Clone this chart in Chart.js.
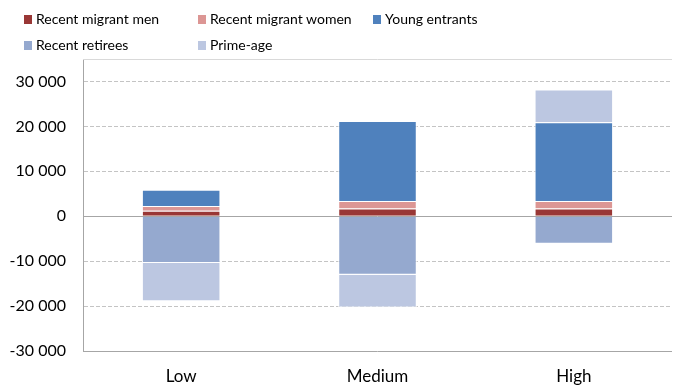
<!DOCTYPE html>
<html lang="en">
<head>
    <meta charset="UTF-8">
    <title>Labour force change by scenario</title>
    <style>
        html, body {
            margin: 0;
            padding: 0;
            background: #ffffff;
        }
        #wrap {
            position: relative;
            width: 673px;
            height: 387px;
        }
        #legend {
            position: absolute;
            left: 0;
            top: 0;
            width: 673px;
            height: 58px;
            font-family: Lato, sans-serif;
            font-size: 14px;
            color: #000000;
        }
        .item {
            position: absolute;
            white-space: nowrap;
            line-height: 20px;
        }
        .box {
            display: inline-block;
            width: 8px;
            height: 9px;
            margin-right: 4px;
            vertical-align: 0px;
        }
    </style>
</head>
<body>
    <div id="wrap">
        <canvas id="chart" width="673" height="387"></canvas>
        <div id="legend"></div>
    </div>

    <script src="https://cdn.jsdelivr.net/npm/chart.js"></script>
    <script>
        const scenarios = ['Low', 'Medium', 'High'];
        const seriesNames = ['Recent migrant men', 'Recent migrant women', 'Young entrants', 'Recent retirees', 'Prime-age'];
        const migrantMen = [1200, 1700, 1700];
        const migrantWomen = [1100, 1700, 1700];
        const youngEntrants = [3600, 17800, 17500];
        const recentRetirees = [-10400, -13000, -6100];
        const primeAge = [-8500, -7300, 7300];
        const tickValues = [-30000, -20000, -10000, 0, 10000, 20000, 30000];
        const colors = ['#993735', '#dc9694', '#4f81bd', '#95a9cf', '#bcc7e1'];

        const seriesValues = [migrantMen, migrantWomen, youngEntrants, recentRetirees, primeAge];

        function formatTick(v) {
            const s = String(Math.abs(v)).replace(/\B(?=(\d{3})+(?!\d))/g, ' ');
            return (v < 0 ? '-' : '') + s;
        }

        // solid lines for zero, bottom and top of the plot
        const frameLines = {
            id: 'frameLines',
            afterDatasetsDraw(chart) {
                const {ctx, chartArea, scales} = chart;
                const y = scales.y;
                ctx.save();
                ctx.lineWidth = 1;
                ctx.strokeStyle = '#d9d9d9';
                ctx.beginPath();
                ctx.moveTo(chartArea.left, Math.round(y.getPixelForValue(y.max)) + 0.5);
                ctx.lineTo(chartArea.right, Math.round(y.getPixelForValue(y.max)) + 0.5);
                ctx.stroke();
                ctx.strokeStyle = '#a6a6a6';
                [0, -30000].forEach(v => {
                    const py = Math.round(y.getPixelForValue(v)) + 0.5;
                    ctx.beginPath();
                    ctx.moveTo(chartArea.left, py);
                    ctx.lineTo(chartArea.right, py);
                    ctx.stroke();
                });
                ctx.restore();
            }
        };

        const ctx = document.getElementById('chart').getContext('2d');
        const chart = new Chart(ctx, {
            type: 'bar',
            data: {
                labels: scenarios,
                datasets: seriesNames.map((name, i) => ({
                    label: name,
                    data: seriesValues[i],
                    backgroundColor: colors[i],
                    borderColor: '#ffffff',
                    borderWidth: 1,
                    categoryPercentage: 1,
                    barPercentage: 0.4
                }))
            },
            options: {
                responsive: false,
                animation: false,
                layout: {
                    padding: {top: 59, right: 1, left: 0, bottom: 0}
                },
                plugins: {
                    legend: {display: false},
                    tooltip: {enabled: false}
                },
                scales: {
                    x: {
                        stacked: true,
                        grid: {display: false, drawTicks: false},
                        border: {display: false},
                        ticks: {
                            padding: 15,
                            color: '#000000',
                            font: {family: 'Lato', size: 17}
                        },
                        afterFit(scale) {
                            scale.height = 36;
                        }
                    },
                    y: {
                        stacked: true,
                        min: -30000,
                        max: 35000,
                        afterBuildTicks(scale) {
                            scale.ticks = tickValues.map(v => ({value: v}));
                        },
                        afterFit(scale) {
                            scale.width = 83;
                        },
                        grid: {
                            drawTicks: false,
                            color: ctx => (ctx.tick && (ctx.tick.value === 0 || ctx.tick.value === -30000)) ? 'rgba(0,0,0,0)' : '#c4c4c4'
                        },
                        border: {
                            color: '#a6a6a6',
                            dash: [4, 2]
                        },
                        ticks: {
                            padding: 17,
                            color: '#000000',
                            font: {family: 'Lato', size: 16},
                            callback: v => formatTick(v)
                        }
                    }
                }
            },
            plugins: [frameLines]
        });

        // legend laid out in Excel-style columns
        const legendPos = [[24, 9], [198, 9], [373, 9], [24, 35], [198, 35]];
        const legend = document.getElementById('legend');
        chart.data.datasets.forEach((ds, i) => {
            const item = document.createElement('div');
            item.className = 'item';
            item.style.left = legendPos[i][0] + 'px';
            item.style.top = legendPos[i][1] + 'px';
            item.innerHTML = '<span class="box" style="background:' + ds.backgroundColor + '"></span>' + ds.label;
            legend.appendChild(item);
        });
    </script>
</body>
</html>
